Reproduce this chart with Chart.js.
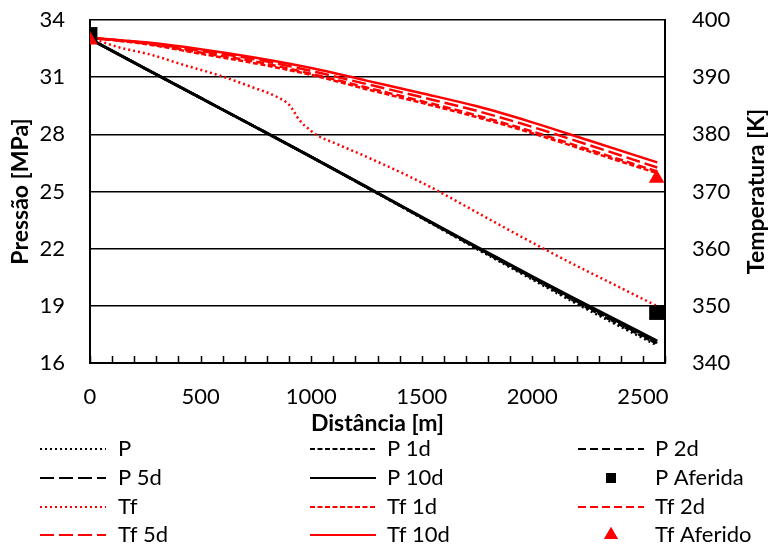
<!DOCTYPE html>
<html lang="pt">
<head>
<meta charset="UTF-8">
<title>Pressão e Temperatura</title>
<script src="https://cdn.jsdelivr.net/npm/chart.js"></script>
<style>
  html, body { margin: 0; padding: 0; background: #fff; }
  #grafico { display: block; }
</style>
</head>
<body>
<canvas id="grafico" width="770" height="546"></canvas>
<script>
  // distâncias comuns às curvas simuladas [m]
  const distancia = [0, 250, 500, 750, 1000, 1250, 1500, 1750, 2000, 2250, 2565];
  const ticksDistancia = [0, 500, 1000, 1500, 2000, 2500];

  // pressão [MPa]
  const pSim = [33.0, 31.45, 29.91, 28.37, 26.82, 25.22, 23.60, 21.98, 20.38, 18.80, 16.92];
  const p1d  = [33.0, 31.45, 29.91, 28.37, 26.82, 25.23, 23.62, 22.02, 20.44, 18.88, 17.00];
  const p2d  = [33.0, 31.45, 29.91, 28.37, 26.82, 25.23, 23.64, 22.05, 20.48, 18.94, 17.05];
  const p5d  = [33.0, 31.45, 29.91, 28.37, 26.82, 25.24, 23.65, 22.07, 20.51, 18.98, 17.10];
  const p10d = [33.0, 31.45, 29.91, 28.37, 26.82, 25.24, 23.66, 22.09, 20.53, 19.03, 17.15];

  // temperatura do fluido [K]
  const tf1d  = [396.9, 395.8, 394.1, 392.4, 390.4, 387.9, 385.5, 383.0, 380.2, 377.1, 373.2];
  const tf2d  = [396.9, 395.9, 394.3, 392.7, 390.6, 388.2, 385.8, 383.3, 380.5, 377.4, 373.5];
  const tf5d  = [396.9, 396.0, 394.6, 393.1, 391.1, 388.8, 386.5, 384.1, 381.3, 378.2, 374.2];
  const tf10d = [396.9, 396.1, 394.9, 393.4, 391.6, 389.4, 387.2, 384.9, 382.1, 379.0, 375.1];

  // curva Tf sem dias de produção (tem um degrau perto dos 1000 m)
  const distTf = [0, 124, 278, 427, 577, 730, 848, 902, 947, 993, 1024, 1117, 1266, 1413, 1549, 1700, 1850, 2046, 2200, 2381, 2562];
  const tfSim  = [396.9, 395.3, 393.9, 392.1, 390.4, 388.3, 386.5, 385.1, 382.5, 380.8, 379.9, 378.3, 375.8, 373.2, 370.6, 367.4, 364.2, 360.1, 357.0, 353.5, 350.0];

  // valores medidos
  const distAferida = [0, 2562];
  const pAferida  = [33.24, 18.65];
  const tfAferido = [396.5, 372.3];

  const fonte = 'Lato, "Open Sans", sans-serif';
  const VERMELHO = '#ff0000';
  const PRETO = '#000000';

  function pontos(xs, ys) {
    return xs.map((x, i) => ({ x: x, y: ys[i] }));
  }

  function curva(label, xs, ys, cor, dash, eixo, largura, ordem) {
    return {
      label: label,
      data: pontos(xs, ys),
      borderColor: cor,
      backgroundColor: cor,
      borderWidth: largura,
      borderDash: dash,
      borderCapStyle: 'butt',
      pointRadius: 0,
      cubicInterpolationMode: 'monotone',
      yAxisID: eixo,
      order: ordem
    };
  }

  function marcador(label, xs, ys, cor, estilo, raio, eixo, ordem) {
    return {
      label: label,
      type: 'scatter',
      data: pontos(xs, ys),
      showLine: false,
      pointStyle: estilo,
      pointRadius: raio,
      pointHoverRadius: raio,
      pointBackgroundColor: cor,
      pointBorderColor: cor,
      pointBorderWidth: 0,
      yAxisID: eixo,
      order: ordem
    };
  }

  const PONTILHADO = [2, 3];
  const TRACO_1D = [5, 2.5];
  const TRACO_2D = [8, 4];
  const TRACO_5D = [14, 5];

  // ordem do array = ordem da legenda (3 colunas)
  const datasets = [
    curva('P', distancia, pSim, PRETO, PONTILHADO, 'y', 2.5, 4),
    curva('P 1d', distancia, p1d, PRETO, TRACO_1D, 'y', 2.5, 4),
    curva('P 2d', distancia, p2d, PRETO, TRACO_2D, 'y', 2.5, 4),
    curva('P 5d', distancia, p5d, PRETO, TRACO_5D, 'y', 2.5, 4),
    curva('P 10d', distancia, p10d, PRETO, [], 'y', 3, 3),
    marcador('P Aferida', distAferida, pAferida, PRETO, 'rect', 10.5, 'y', 1),
    curva('Tf', distTf, tfSim, VERMELHO, PONTILHADO, 'y1', 2.5, 2),
    curva('Tf 1d', distancia, tf1d, VERMELHO, TRACO_1D, 'y1', 2.5, 2),
    curva('Tf 2d', distancia, tf2d, VERMELHO, TRACO_2D, 'y1', 2.5, 2),
    curva('Tf 5d', distancia, tf5d, VERMELHO, TRACO_5D, 'y1', 2.5, 2),
    curva('Tf 10d', distancia, tf10d, VERMELHO, [], 'y1', 2.5, 2),
    marcador('Tf Aferido', distAferida, tfAferido, VERMELHO, 'triangle', 9, 'y1', 0)
  ];

  // marcas menores do eixo x, para dentro da área do gráfico
  const marcasX = {
    id: 'marcasX',
    afterDraw(chart) {
      const { ctx, chartArea, scales } = chart;
      const x = scales.x;
      ctx.save();
      ctx.strokeStyle = PRETO;
      ctx.lineWidth = 1.5;
      ctx.beginPath();
      for (let v = 0; v <= x.max; v += 100) {
        const px = Math.round(x.getPixelForValue(v)) + 0.5;
        ctx.moveTo(px, chartArea.bottom);
        ctx.lineTo(px, chartArea.bottom - 7);
      }
      ctx.stroke();
      ctx.restore();
    }
  };

  // título do eixo da direita, lido de baixo para cima
  const tituloDireita = {
    id: 'tituloDireita',
    afterDraw(chart) {
      const { ctx, chartArea } = chart;
      ctx.save();
      ctx.translate(757, (chartArea.top + chartArea.bottom) / 2);
      ctx.rotate(-Math.PI / 2);
      ctx.font = 'bold 23px ' + fonte;
      ctx.fillStyle = PRETO;
      ctx.textAlign = 'center';
      ctx.textBaseline = 'middle';
      ctx.fillText('Temperatura [K]', 0, 0);
      ctx.restore();
    }
  };

  // legenda em grelha 3 x 4
  const legendaGrelha = {
    id: 'legendaGrelha',
    afterDraw(chart) {
      const { ctx } = chart;
      const linhaX = [40, 310, 578];
      const textoX = [118, 387, 655];
      const linhaY = [449, 478, 507, 535];
      const comp = 66;
      ctx.save();
      ctx.font = '22px ' + fonte;
      ctx.textBaseline = 'middle';
      ctx.textAlign = 'left';
      chart.data.datasets.forEach((ds, i) => {
        const col = i % 3;
        const lin = Math.floor(i / 3);
        const y = linhaY[lin];
        const x0 = linhaX[col];
        if (ds.type === 'scatter') {
          ctx.fillStyle = ds.pointBackgroundColor;
          Chart.helpers.drawPoint(ctx, {
            pointStyle: ds.pointStyle,
            radius: ds.pointStyle === 'rect' ? 7 : 8,
            rotation: 0,
            borderWidth: 0
          }, x0 + comp / 2, y);
          ctx.fill();
        } else {
          ctx.strokeStyle = ds.borderColor;
          ctx.lineWidth = 2;
          ctx.lineCap = 'butt';
          ctx.setLineDash(ds.borderDash);
          ctx.beginPath();
          ctx.moveTo(x0, y);
          ctx.lineTo(x0 + comp, y);
          ctx.stroke();
          ctx.setLineDash([]);
        }
        ctx.fillStyle = PRETO;
        ctx.fillText(ds.label, textoX[col], y);
      });
      ctx.restore();
    }
  };

  new Chart(document.getElementById('grafico'), {
    type: 'line',
    data: { datasets: datasets },
    options: {
      responsive: false,
      animation: false,
      devicePixelRatio: 1,
      layout: { padding: { top: 20, left: 0, right: 0, bottom: 109 } },
      plugins: {
        legend: { display: false },
        tooltip: { enabled: false }
      },
      scales: {
        x: {
          type: 'linear',
          min: 0,
          max: 2600,
          afterFit(s) { s.height = 74; },
          afterBuildTicks(s) { s.ticks = ticksDistancia.map(v => ({ value: v })); },
          grid: { display: false },
          border: { display: true, color: PRETO, width: 2 },
          ticks: {
            padding: 13,
            color: PRETO,
            font: { family: fonte, size: 22 },
            maxRotation: 0,
            autoSkip: false,
            callback: v => String(v)
          },
          title: {
            display: true,
            text: 'Distância [m]',
            color: PRETO,
            font: { family: fonte, size: 23, weight: 'bold' },
            padding: 0
          }
        },
        y: {
          position: 'left',
          min: 16,
          max: 34,
          afterFit(s) { s.width = 90; },
          // marcas invisíveis só para afastar os rótulos do eixo
          grid: { color: PRETO, lineWidth: 1.5, drawTicks: true, tickLength: 25, tickColor: 'rgba(0,0,0,0)' },
          border: { display: true, color: PRETO, width: 2 },
          ticks: {
            stepSize: 3,
            padding: 0,
            color: PRETO,
            font: { family: fonte, size: 22 }
          },
          title: {
            display: true,
            text: 'Pressão [MPa]',
            color: PRETO,
            font: { family: fonte, size: 23, weight: 'bold' },
            padding: { top: 7, bottom: 0 }
          }
        },
        y1: {
          position: 'right',
          min: 340,
          max: 400,
          afterFit(s) { s.width = 105; },
          grid: { display: false, drawOnChartArea: false, drawTicks: true, tickLength: 27, tickColor: 'rgba(0,0,0,0)' },
          border: { display: true, color: PRETO, width: 2 },
          ticks: {
            stepSize: 10,
            padding: 0,
            color: PRETO,
            font: { family: fonte, size: 22 }
          }
        }
      }
    },
    plugins: [marcasX, tituloDireita, legendaGrelha]
  });
</script>
</body>
</html>
